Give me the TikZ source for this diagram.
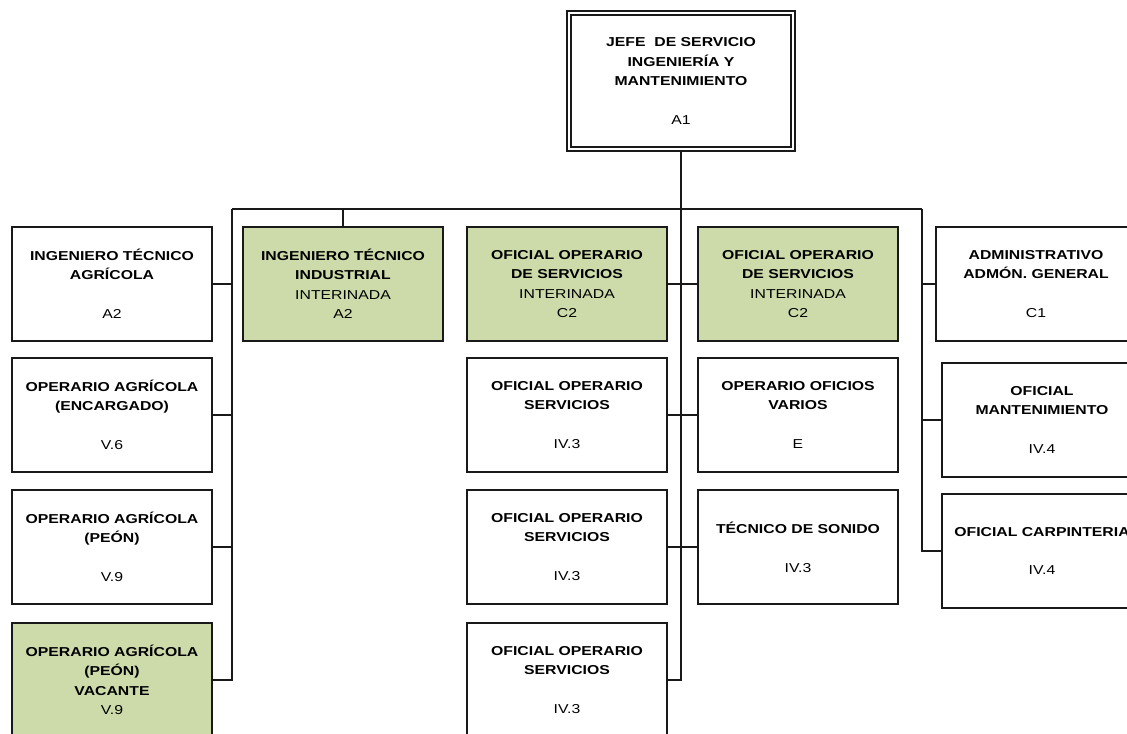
\documentclass[tikz,border=0pt]{standalone}
\usepackage{fontspec}
\setmainfont{Liberation Sans}[FakeStretch=1.22]
\definecolor{vgreen}{RGB}{204,219,169}
\definecolor{linec}{RGB}{25,25,25}
\newcommand\regtxt[1]{{\mdseries #1}}
\begin{document}
\begin{tikzpicture}[x=0.75pt,y=-0.75pt,
  box/.style={draw=linec, line width=1.25pt, fill=white, minimum width=150pt, minimum height=85.5pt,
    inner sep=0pt, align=center, font=\fontsize{9.7}{14.6}\selectfont\bfseries},
  gbox/.style={box, fill=vgreen},
  topbox/.style={box, double, double distance=2.2pt, line width=1.1pt, minimum width=168pt, minimum height=102pt},
  conn/.style={draw=linec, line width=1.25pt}]
\useasboundingbox (0,0) rectangle (1127,734);
\clip (0,0) rectangle (1127,734);
\fill[white] (0,0) rectangle (1127,734);

% top
\node[topbox] (jefe) at (681,81) {JEFE\ \ DE SERVICIO\\INGENIERÍA Y\\MANTENIMIENTO\\[14.6pt]\regtxt{A1}};

% left column
\node[box] (l1) at (112,284) {INGENIERO TÉCNICO\\AGRÍCOLA\\[14.6pt]\regtxt{A2}};
\node[box] (l2) at (112,415) {OPERARIO AGRÍCOLA\\(ENCARGADO)\\[14.6pt]\regtxt{V.6}};
\node[box] (l3) at (112,547) {OPERARIO AGRÍCOLA\\(PEÓN)\\[14.6pt]\regtxt{V.9}};
\node[gbox] (l4) at (112,680) {OPERARIO AGRÍCOLA\\(PEÓN)\\VACANTE\\\regtxt{V.9}};

\node[gbox] (ii) at (343,284) {INGENIERO TÉCNICO\\INDUSTRIAL\\\regtxt{INTERINADA}\\\regtxt{A2}};

% middle columns
\node[gbox] (m1) at (567,284) {OFICIAL OPERARIO\\DE SERVICIOS\\\regtxt{INTERINADA}\\\regtxt{C2}};
\node[box] (m2) at (567,415) {OFICIAL OPERARIO\\SERVICIOS\\[14.6pt]\regtxt{IV.3}};
\node[box] (m3) at (567,547) {OFICIAL OPERARIO\\SERVICIOS\\[14.6pt]\regtxt{IV.3}};
\node[box] (m4) at (567,680) {OFICIAL OPERARIO\\SERVICIOS\\[14.6pt]\regtxt{IV.3}};

\node[gbox] (n1) at (798,284) {OFICIAL OPERARIO\\DE SERVICIOS\\\regtxt{INTERINADA}\\\regtxt{C2}};
\node[box] (n2) at (798,415) {OPERARIO OFICIOS\\VARIOS\\[14.6pt]\regtxt{E}};
\node[box] (n3) at (798,547) {TÉCNICO DE SONIDO\\[14.6pt]\regtxt{IV.3}};

% right column
\node[box] (r1) at (1036,284) {ADMINISTRATIVO\\ADMÓN. GENERAL\\[14.6pt]\regtxt{C1}};
\node[box] (r2) at (1042,420) {OFICIAL\\MANTENIMIENTO\\[14.6pt]\regtxt{IV.4}};
\node[box] (r3) at (1042,551) {OFICIAL CARPINTERIA\\[14.6pt]\regtxt{IV.4}};

% connectors
\coordinate (barL) at (232,209);
\coordinate (barR) at (922,209);
\draw[conn] (barL) -- (barR);
\draw[conn] (jefe.south) -- (jefe.south |- l4.east) -- (m4.east);
\draw[conn] (barL) -- (barL |- l4.east) -- (l4.east);
\draw[conn] (l1.east) -- (l1.east -| barL);
\draw[conn] (l2.east) -- (l2.east -| barL);
\draw[conn] (l3.east) -- (l3.east -| barL);
\draw[conn] (ii.north) -- (ii.north |- barL);
\draw[conn] (m1.east) -- (n1.west);
\draw[conn] (m2.east) -- (n2.west);
\draw[conn] (m3.east) -- (n3.west);
\draw[conn] (barR) -- (barR |- r3.west) -- (r3.west);
\draw[conn] (r1.west) -- (r1.west -| barR);
\draw[conn] (r2.west) -- (r2.west -| barR);
\end{tikzpicture}
\end{document}
